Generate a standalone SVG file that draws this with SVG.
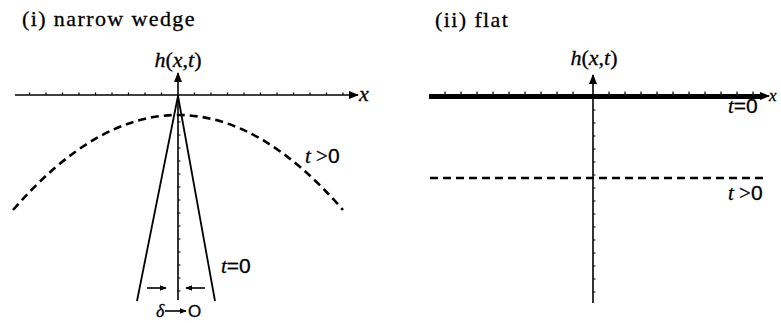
<svg xmlns="http://www.w3.org/2000/svg" width="781" height="323" viewBox="0 0 781 323">
<defs>
<style>
text{font-family:"Liberation Serif","Times New Roman",serif;fill:#000;stroke:#000;stroke-width:0.3}
.it{font-style:italic}
.s{font-family:"Liberation Sans",Arial,sans-serif}
.ax{stroke:#000;stroke-width:1.6;fill:none}
.tk{stroke:#000;stroke-width:1.2}
.dash{stroke:#000;stroke-width:2.6;fill:none;stroke-dasharray:8 5}
</style>
<marker id="ah" viewBox="0 0 10 8" refX="9" refY="4" markerWidth="10" markerHeight="8" markerUnits="userSpaceOnUse" orient="auto">
<path d="M0,0 L10,4 L0,8 Z" fill="#000"/>
</marker>
<marker id="ahs" viewBox="0 0 10 8" refX="9" refY="4" markerWidth="7" markerHeight="6" markerUnits="userSpaceOnUse" orient="auto">
<path d="M0,0 L10,4 L0,8 Z" fill="#000"/>
</marker>
</defs>

<g id="panel-i">
<text x="22" y="26" font-size="22" letter-spacing="1.4">(i) narrow wedge</text>
<text class="it" x="178" y="67" font-size="22" text-anchor="middle">h<tspan font-style="normal">(</tspan>x<tspan font-style="normal">,</tspan>t<tspan font-style="normal">)</tspan></text>
</g>

<g id="axes-i">
<line class="ax" x1="15" y1="95" x2="358" y2="95" marker-end="url(#ah)"/>
<text class="it" x="359" y="101" font-size="22">x</text>
<line class="ax" x1="178" y1="300" x2="178" y2="73" marker-end="url(#ah)"/>
<path class="tk" d="M29.5,95v-2.5M46,95v-2.5M62.5,95v-2.5M79,95v-2.5M95.5,95v-2.5M112,95v-2.5M128.5,95v-2.5M145,95v-2.5M161.5,95v-2.5M194.5,95v-2.5M211,95v-2.5M227.5,95v-2.5M244,95v-2.5M260.5,95v-2.5M277,95v-2.5M293.5,95v-2.5M310,95v-2.5M326.5,95v-2.5M343,95v-2.5"/>
<path class="tk" d="M178,122h2.5M178,135h2.5M178,148h2.5M178,161h2.5M178,174h2.5M178,187h2.5M178,200h2.5M178,213h2.5M178,226h2.5M178,239h2.5M178,252h2.5M178,265h2.5M178,278h2.5M178,291h2.5"/>
</g>

<g id="wedge">
<path d="M137,301 L178,96 L215,301" fill="none" stroke="#000" stroke-width="1.8"/>
</g>

<g id="curve-i">
<path class="dash" d="M13,210 Q178,20 343,210"/>
<text x="305" y="163" font-size="21"><tspan class="it">t</tspan> &gt;<tspan class="s">0</tspan></text>
<text x="221" y="273" font-size="21"><tspan class="it">t</tspan><tspan class="s">=0</tspan></text>
</g>

<g id="delta-arrows">
<line class="ax" x1="147" y1="288" x2="166" y2="288" stroke-width="1.4" marker-end="url(#ahs)"/>
<line class="ax" x1="205" y1="288" x2="186" y2="288" stroke-width="1.4" marker-end="url(#ahs)"/>
<text class="it" x="156" y="317" font-size="18">δ</text>
<line class="ax" x1="165" y1="311" x2="186" y2="311" stroke-width="1.6" marker-end="url(#ahs)"/>
<text class="s" x="188" y="317" font-size="17">O</text>
</g>

<g id="panel-ii">
<text x="435" y="27" font-size="22" letter-spacing="1.4">(ii) flat</text>
<text class="it" x="594" y="65" font-size="22" text-anchor="middle">h<tspan font-style="normal">(</tspan>x<tspan font-style="normal">,</tspan>t<tspan font-style="normal">)</tspan></text>
</g>

<g id="axes-ii">
<line x1="429" y1="96.5" x2="762" y2="96.5" stroke="#000" stroke-width="5"/>
<line class="ax" x1="758" y1="96" x2="769" y2="96" marker-end="url(#ah)"/>
<text class="it" x="769" y="101" font-size="17">x</text>
<line class="ax" x1="593" y1="303" x2="593" y2="75" marker-end="url(#ah)"/>
<path class="tk" d="M445,94v-2.5M461,94v-2.5M477,94v-2.5M493,94v-2.5M509,94v-2.5M525,94v-2.5M541,94v-2.5M557,94v-2.5M573,94v-2.5M609,94v-2.5M625,94v-2.5M641,94v-2.5M657,94v-2.5M673,94v-2.5M689,94v-2.5M705,94v-2.5M721,94v-2.5M737,94v-2.5M753,94v-2.5"/>
<path class="tk" d="M593,110h2.5M593,123h2.5M593,136h2.5M593,149h2.5M593,162h2.5M593,175h2.5M593,188h2.5M593,201h2.5M593,214h2.5M593,227h2.5M593,240h2.5M593,253h2.5M593,266h2.5M593,279h2.5M593,292h2.5"/>
</g>

<g id="curve-ii">
<text x="728" y="113" font-size="21"><tspan class="it">t</tspan><tspan class="s">=0</tspan></text>
<line class="dash" x1="430" y1="178" x2="767" y2="178" stroke-width="3"/>
<text x="728" y="200" font-size="21"><tspan class="it">t</tspan> &gt;<tspan class="s">0</tspan></text>
</g>
</svg>
